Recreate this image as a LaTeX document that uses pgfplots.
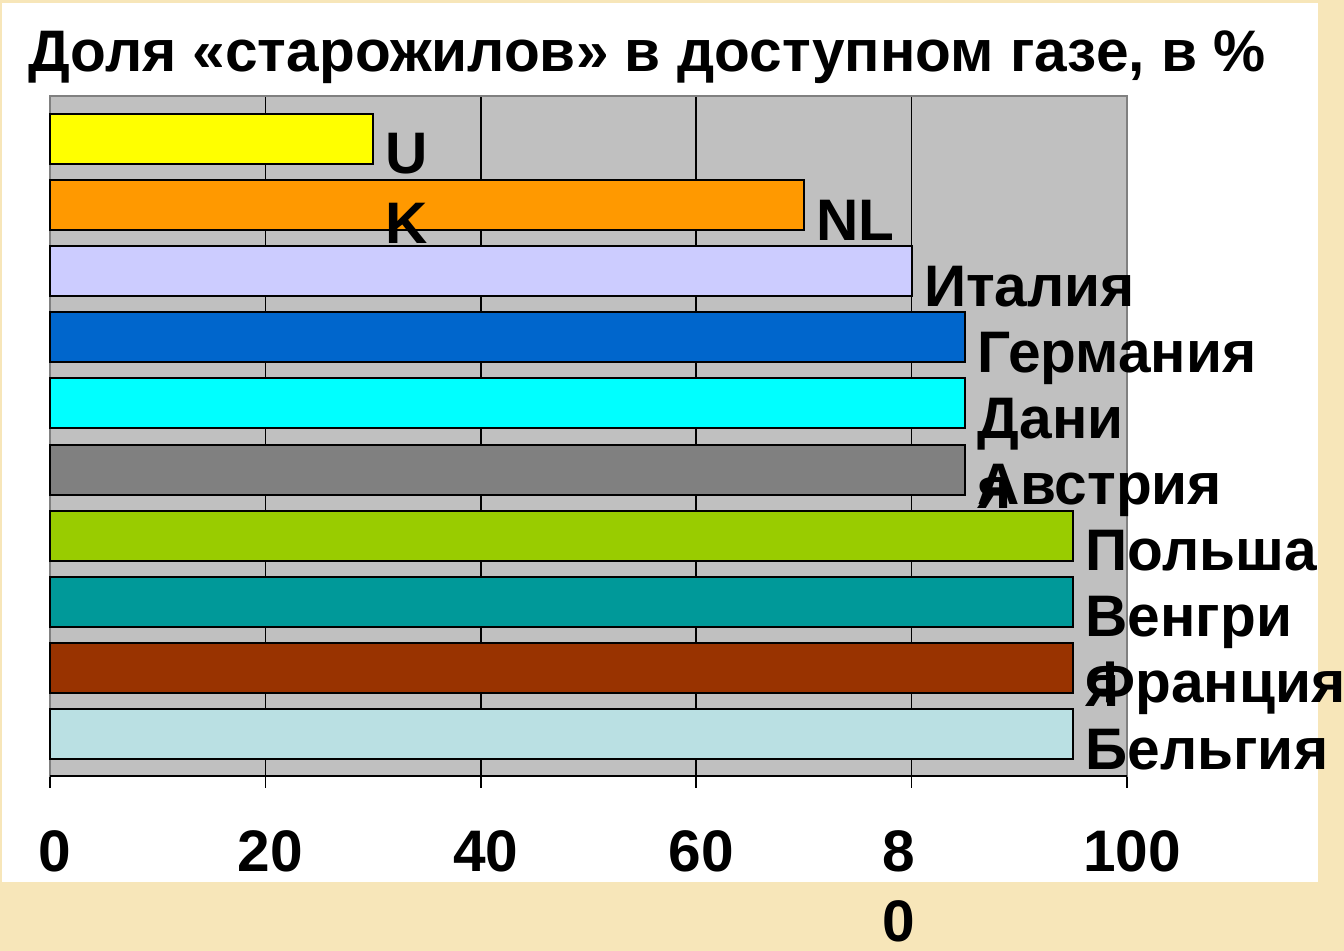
\documentclass[border=0pt]{standalone}
\usepackage{fontspec}
\setmainfont{Liberation Sans}
\usepackage{pgfplots}
\pgfplotsset{compat=1.18}
\usepackage{xcolor}
\definecolor{pagebeige}{RGB}{247,230,185}
\definecolor{plotgray}{RGB}{192,192,192}
\definecolor{bordergray}{RGB}{128,128,128}
\definecolor{ukyellow}{RGB}{255,255,0}
\definecolor{nlorange}{RGB}{255,153,0}
\definecolor{itlilac}{RGB}{204,204,255}
\definecolor{deblue}{RGB}{0,102,204}
\definecolor{dkcyan}{RGB}{0,255,255}
\definecolor{atgray}{RGB}{128,128,128}
\definecolor{plgreen}{RGB}{153,204,0}
\definecolor{huteal}{RGB}{0,153,153}
\definecolor{frbrown}{RGB}{153,51,0}
\definecolor{belight}{RGB}{186,224,227}
\newcommand\lbl{\bfseries\fontsize{29.3}{35}\selectfont}

\begin{document}
\begin{tikzpicture}
% page: 1344x951 px at 0.5pt per px
\useasboundingbox (0,0) rectangle (672pt,475.5pt);
\fill[pagebeige] (0,0) rectangle (672pt,475.5pt);
\fill[white] (1pt,34.5pt) rectangle (659pt,474pt);
\node[anchor=base west, inner sep=0pt, font=\lbl] at (14pt,439.5pt)
  {Доля «старожилов» в доступном газе, в \%};

\begin{axis}[
    at={(25pt,87.5pt)}, anchor=south west,
    width=538.5pt, height=340pt, scale only axis,
    xmin=0, xmax=100,
    ymin=-0.635, ymax=9.65,
    xbar, bar width=25pt, bar shift=0pt,
    axis background/.style={fill=plotgray},
    axis line style={draw=bordergray, line width=1pt},
    xtick={0,20,40,60,80,100},
    xticklabels={0,20,40,60,{\makebox[0pt]{\kern-18pt 8}\\\makebox[0pt]{\kern-18pt 0}},100},
    xtick pos=bottom, tick align=outside,
    major tick length=6pt,
    tick style={black, line width=0.75pt},
    xticklabel style={font=\lbl, align=center, anchor=north, inner sep=0pt, yshift=-21pt, xshift=2.5pt},
    ytick=\empty,
    xmajorgrids,
    major grid style={black, line width=0.75pt},
    clip=false,
]
\addplot[fill=ukyellow, draw=black, line width=1pt] coordinates {(30,9)};
\addplot[fill=nlorange, draw=black, line width=1pt] coordinates {(70,8)};
\addplot[fill=itlilac, draw=black, line width=1pt] coordinates {(80,7)};
\addplot[fill=deblue, draw=black, line width=1pt] coordinates {(85,6)};
\addplot[fill=dkcyan, draw=black, line width=1pt] coordinates {(85,5)};
\addplot[fill=atgray, draw=black, line width=1pt] coordinates {(85,4)};
\addplot[fill=plgreen, draw=black, line width=1pt] coordinates {(95,3)};
\addplot[fill=huteal, draw=black, line width=1pt] coordinates {(95,2)};
\addplot[fill=frbrown, draw=black, line width=1pt] coordinates {(95,1)};
\addplot[fill=belight, draw=black, line width=1pt] coordinates {(95,0)};

% plot area border: right gray, bottom black
\draw[bordergray, line width=1pt] (rel axis cs:1,0) -- (rel axis cs:1,1);
\draw[black, line width=1pt] (rel axis cs:0,0) -- (rel axis cs:1,0);

% value labels (country names)
\tikzset{lab/.style={anchor=base west, inner sep=0pt, font=\lbl, xshift=6pt, yshift=-17.5pt}}
\node[lab] at (axis cs:30,9) {U};
\node[lab, yshift=-35pt] at (axis cs:30,9) {K};
\node[lab] at (axis cs:70,8) {NL};
\node[lab] at (axis cs:80,7) {Италия};
\node[lab] at (axis cs:85,6) {Германия};
\node[lab] at (axis cs:85,5) {Дани};
\node[lab, yshift=-35pt] at (axis cs:85,5) {я};
\node[lab] at (axis cs:85,4) {Австрия};
\node[lab] at (axis cs:95,3) {Польша};
\node[lab] at (axis cs:95,2) {Венгри};
\node[lab, yshift=-35pt] at (axis cs:95,2) {я};
\node[lab] at (axis cs:95,1) {Франция};
\node[lab] at (axis cs:95,0) {Бельгия};
\end{axis}
\end{tikzpicture}
\end{document}
